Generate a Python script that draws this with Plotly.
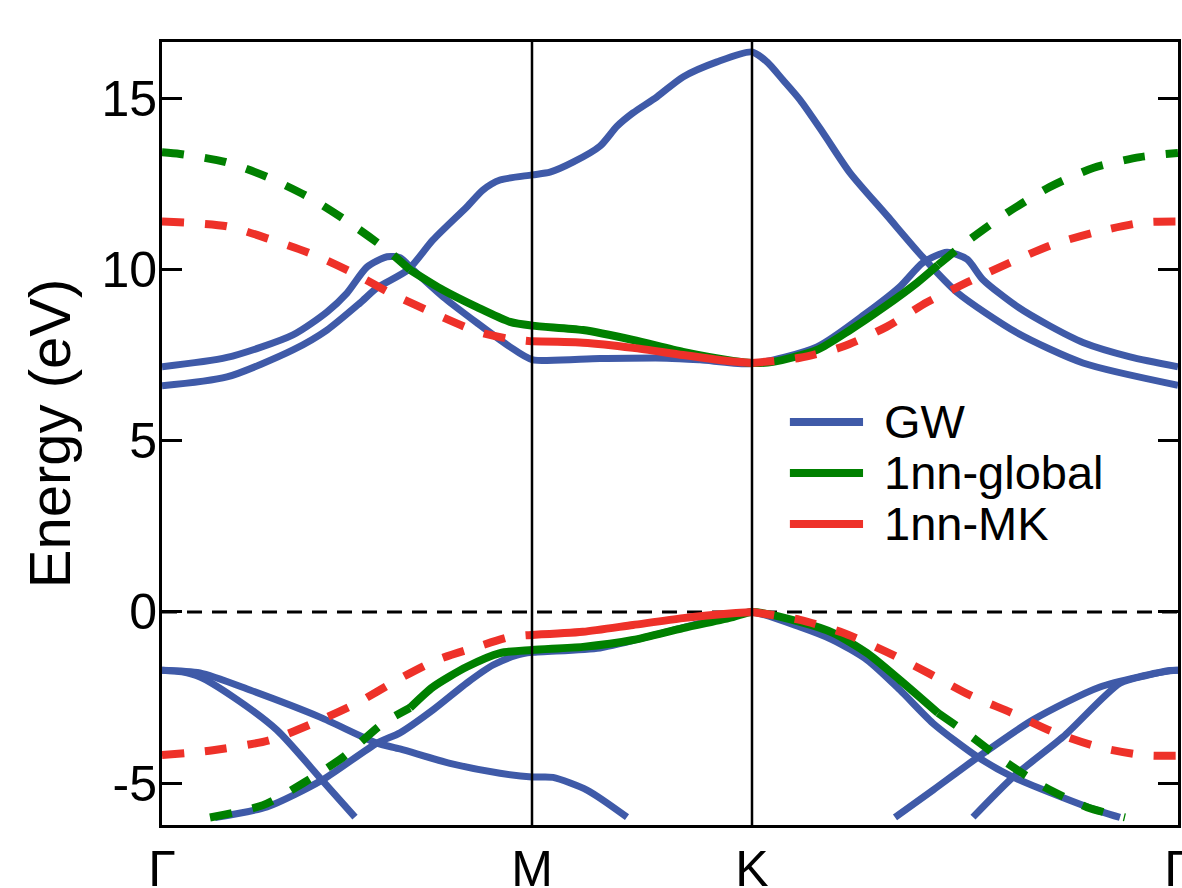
import numpy as np
import plotly.graph_objects as go

# ---- path through the Brillouin zone --------------------------------------
K_POINTS = [0.0, 3.70, 5.90, 10.16]
K_LABELS = ["Γ", "M", "K", "Γ"]

E_TICKS = [-5, 0, 5, 10, 15]
E_TICK_LABELS = ["-5", "0", "5", "10", "15"]
E_RANGE = [-6.22, 16.64]

SERIES = ["GW", "1nn-global", "1nn-MK"]
COLORS = ["#3f5aa8", "#008000", "#ee3129"]

# ---- GW bands (valence) ----------------------------------------------------
gw_v1_k = [0.00, 0.20, 0.38, 0.71, 1.15, 1.60, 1.93]
gw_v1_e = [-1.70, -1.75, -1.90, -2.48, -3.45, -4.91, -5.99]

gw_v2_k = [0.00, 0.38, 0.88, 1.58, 2.15, 2.38, 2.88, 3.38, 3.70, 3.91, 4.25, 4.65]
gw_v2_e = [-1.70, -1.78, -2.28, -3.07, -3.83, -4.00, -4.42, -4.71, -4.82, -4.83, -5.20, -5.99]

gw_v3_k = [0.53, 1.05, 1.60, 2.15, 2.38, 2.71, 3.05, 3.31, 3.55, 3.70, 4.38, 5.05,
           5.71, 5.90, 6.38, 6.71, 7.05, 7.38, 7.71, 8.16, 8.51, 9.25, 9.58]
gw_v3_e = [-6.00, -5.69, -4.91, -3.83, -3.53, -2.86, -2.07, -1.55, -1.26, -1.18, -1.05, -0.58,
           -0.09, 0.00, -0.44, -0.82, -1.40, -2.28, -3.25, -4.24, -4.82, -5.69, -6.00]

gw_v4_k = [7.33, 7.71, 8.16, 8.71, 9.38, 10.08, 10.16]
gw_v4_e = [-6.00, -5.20, -4.24, -3.15, -2.19, -1.71, -1.70]

gw_v5_k = [8.11, 8.51, 9.01, 9.58, 9.85, 10.08, 10.16]
gw_v5_e = [-5.99, -4.82, -3.65, -2.08, -1.85, -1.72, -1.70]

# ---- GW bands (conduction) -------------------------------------------------
gw_c1_k = [0.00, 0.65, 1.31, 1.65, 1.85, 2.05, 2.25, 2.38, 2.51, 2.81, 3.15, 3.48, 3.70,
           4.38, 5.05, 5.38, 5.90, 6.55, 7.05, 7.38, 7.61, 7.85, 8.05, 8.21, 8.55,
           8.88, 9.21, 9.68, 10.16]
gw_c1_e = [7.16, 7.43, 8.09, 8.76, 9.31, 10.07, 10.37, 10.34, 9.99, 9.20, 8.44, 7.74, 7.37,
           7.40, 7.41, 7.36, 7.25, 7.74, 8.74, 9.50, 10.20, 10.50, 10.30, 9.70, 8.92,
           8.35, 7.87, 7.45, 7.16]

gw_c2_k = [0.00, 0.65, 1.31, 1.65, 1.98, 2.15, 2.46, 2.71, 3.05, 3.21, 3.38, 3.70, 3.88,
           4.11, 4.38, 4.55, 4.71, 4.95, 5.21, 5.55, 5.90, 6.05, 6.21, 6.38, 6.61,
           6.88, 7.25, 7.61, 7.95, 8.55, 9.21, 10.16]
gw_c2_e = [6.60, 6.86, 7.65, 8.23, 9.02, 9.46, 9.99, 10.86, 11.83, 12.32, 12.61, 12.76, 12.84,
           13.13, 13.60, 14.18, 14.57, 15.04, 15.62, 16.06, 16.35, 16.06, 15.53, 14.95, 13.99,
           12.82, 11.57, 10.35, 9.33, 8.15, 7.27, 6.62]

# ---- 1nn tight-binding model, global fit -----------------------------------
glob_fit = (2.48, 7.76)

glob_c_k = [0.00, 0.18, 0.63, 1.05, 1.48, 1.86, 2.25, 2.48, 2.81, 3.15, 3.48, 3.70,
            4.21, 4.71, 5.21, 5.71, 5.90, 6.11, 6.55, 6.88, 7.21, 7.55, 7.76,
            8.08, 8.45, 8.88, 9.31, 9.78, 10.16]
glob_c_e = [13.42, 13.37, 13.14, 12.70, 12.09, 11.39, 10.57, 9.99, 9.40, 8.90, 8.47, 8.36,
            8.23, 7.94, 7.59, 7.33, 7.27, 7.30, 7.65, 8.23, 8.88, 9.61, 10.13,
            10.88, 11.65, 12.41, 12.96, 13.28, 13.40]

glob_v_k = [0.48, 1.01, 1.41, 1.81, 2.21, 2.48, 2.71, 3.05, 3.38, 3.70, 4.21, 4.71,
            5.21, 5.71, 5.90, 6.38, 6.71, 7.05, 7.38, 7.76, 8.05, 8.41, 8.83, 9.25, 9.63]
glob_v_e = [-6.00, -5.64, -5.00, -4.24, -3.25, -2.80, -2.19, -1.60, -1.20, -1.11, -1.02, -0.82,
            -0.47, -0.15, 0.00, -0.29, -0.61, -1.20, -1.99, -2.95, -3.54, -4.33, -5.12, -5.70, -6.00]

# ---- 1nn tight-binding model, fitted on M-K only ---------------------------
mk_fit = (3.70, 5.90)

mk_c_k = [0.00, 0.65, 1.08, 1.51, 1.91, 2.31, 2.75, 3.15, 3.48, 3.70,
          4.21, 4.71, 5.21, 5.71, 5.90, 6.38, 6.81, 7.25, 7.65, 8.05, 8.48,
          8.91, 9.35, 9.81, 10.16]
mk_c_e = [11.40, 11.26, 10.88, 10.44, 9.90, 9.27, 8.68, 8.19, 7.97, 7.90,
          7.86, 7.71, 7.50, 7.31, 7.27, 7.42, 7.75, 8.33, 9.04, 9.62, 10.20,
          10.73, 11.10, 11.37, 11.40]

mk_v_k = [0.00, 0.51, 1.08, 1.51, 1.95, 2.35, 2.75, 3.15, 3.48, 3.70,
          4.21, 4.71, 5.21, 5.71, 5.90, 6.38, 6.81, 7.25, 7.66, 8.08, 8.50,
          8.91, 9.36, 9.81, 10.16]
mk_v_e = [-4.18, -4.04, -3.74, -3.25, -2.66, -1.99, -1.40, -1.02, -0.73, -0.67,
          -0.58, -0.38, -0.18, -0.04, 0.00, -0.23, -0.61, -1.17, -1.78, -2.43, -2.95,
          -3.50, -3.94, -4.18, -4.20]

FONT = "Liberation Sans, Arial, Helvetica, sans-serif"

fig = go.Figure()


def add_line(k, e, color, width, dash="solid"):
    fig.add_trace(go.Scatter(
        x=list(k), y=list(e), mode="lines",
        line=dict(color=color, width=width, dash=dash, shape="spline", smoothing=0.7),
        showlegend=False, hoverinfo="skip",
    ))


def add_model_band(k, e, fit, color, width):
    """Solid inside the fitting window, dashed where the model is extrapolated."""
    k = np.asarray(k, dtype=float)
    e = np.asarray(e, dtype=float)
    lo, hi = fit
    eps = 1e-9
    left = k <= lo + eps
    mid = (k >= lo - eps) & (k <= hi + eps)
    right = k >= hi - eps
    dash = "22px,21px"
    if left.sum() > 1:
        add_line(k[left], e[left], color, width, dash)
    if mid.sum() > 1:
        add_line(k[mid], e[mid], color, width)
    if right.sum() > 1:
        add_line(k[right], e[right], color, width, dash)


# GW reference bands
for kk, ee in [(gw_v1_k, gw_v1_e), (gw_v2_k, gw_v2_e), (gw_v3_k, gw_v3_e),
               (gw_v4_k, gw_v4_e), (gw_v5_k, gw_v5_e),
               (gw_c1_k, gw_c1_e), (gw_c2_k, gw_c2_e)]:
    add_line(kk, ee, COLORS[0], 7)

# model bands
for kk, ee in [(glob_c_k, glob_c_e), (glob_v_k, glob_v_e)]:
    add_model_band(kk, ee, glob_fit, COLORS[1], 8)
for kk, ee in [(mk_c_k, mk_c_e), (mk_v_k, mk_v_e)]:
    add_model_band(kk, ee, mk_fit, COLORS[2], 8)

# Fermi level and high-symmetry lines
shapes = [dict(type="line", xref="paper", x0=0, x1=1, yref="y", y0=0, y1=0,
               line=dict(color="black", width=3, dash="15px,10px"), layer="below")]
for kp in K_POINTS[1:-1]:
    shapes.append(dict(type="line", xref="x", x0=kp, x1=kp, yref="paper", y0=0, y1=1,
                       line=dict(color="black", width=2.5), layer="above"))

# legend drawn as line samples with labels
annotations = []
leg_x0, leg_x1, leg_tx = 0.618, 0.690, 0.709
leg_y0, leg_dy = 0.5147, 0.0651
for i, (name, col) in enumerate(zip(SERIES, COLORS)):
    yy = leg_y0 - i * leg_dy
    shapes.append(dict(type="line", xref="paper", yref="paper", x0=leg_x0, x1=leg_x1,
                       y0=yy, y1=yy, line=dict(color=col, width=8)))
    annotations.append(dict(xref="paper", yref="paper", x=leg_tx, y=yy, text=name,
                            showarrow=False, xanchor="left", yanchor="middle",
                            font=dict(family=FONT, size=47, color="black")))

fig.update_layout(
    width=1182, height=888,
    margin=dict(l=162, r=4, t=42, b=63, autoexpand=False),
    paper_bgcolor="white", plot_bgcolor="white",
    font=dict(family=FONT, color="black"),
    showlegend=False,
    shapes=shapes, annotations=annotations,
    xaxis=dict(
        range=[K_POINTS[0], K_POINTS[-1]], tickmode="array",
        tickvals=K_POINTS, ticktext=K_LABELS, ticks="",
        tickfont=dict(family=FONT, size=50), ticklabelstandoff=-2,
        ticklabeloverflow="allow", automargin=False,
        showline=True, linewidth=3, linecolor="black", mirror=True,
        showgrid=False, zeroline=False,
    ),
    yaxis=dict(
        range=E_RANGE, tickmode="array", tickvals=E_TICKS, ticktext=E_TICK_LABELS,
        ticks="inside", ticklen=20, tickwidth=3, tickcolor="black",
        tickfont=dict(family=FONT, size=50), ticklabelstandoff=-8,
        automargin=False,
        showline=True, linewidth=3, linecolor="black", mirror="ticks",
        showgrid=False, zeroline=False,
        title=dict(text="Energy (eV)", font=dict(family=FONT, size=58), standoff=13),
    ),
)

fig.write_html("out.html")
